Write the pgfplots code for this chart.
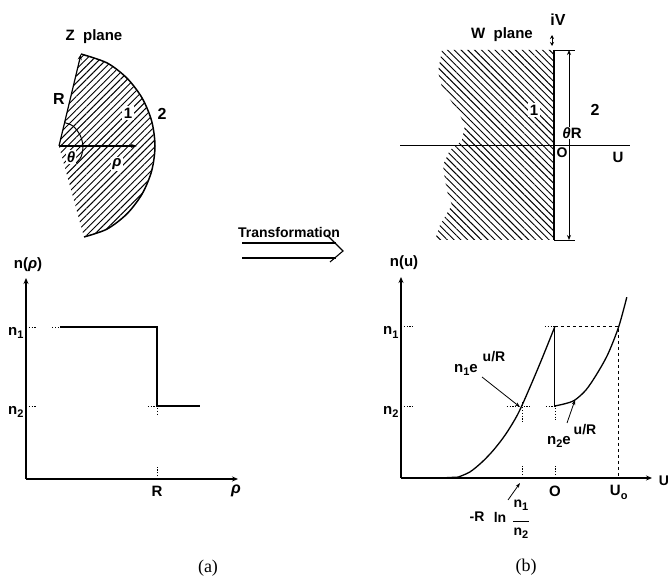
\documentclass[border=0pt]{standalone}
\usepackage{fontspec}
\setmainfont{Liberation Sans}
\newfontfamily\capfont{Liberation Serif}
\usepackage{pgfplots}
\pgfplotsset{compat=1.18}
\usetikzlibrary{arrows.meta,patterns.meta}

\newcommand{\sub}[1]{\raisebox{-3.5pt}{\fontsize{11}{11}\selectfont #1}}
\newcommand{\fs}[1]{\fontsize{#1}{#1}\selectfont\bfseries}

\pgfplotsset{
  chart/.style={
    scale only axis, clip=false, axis lines=left,
    axis line style={line width=1.2pt,-{Stealth[length=6pt,width=5pt]}},
    anchor=south west, ymin=0,
    major tick length=0pt, tick style={draw=none},
    tick label style={font=\fs{15}},
    xticklabel style={yshift=-4pt},
    yticklabel style={xshift=1pt,yshift=-6pt},
  },
  hatchw/.style={draw=none,pattern={Lines[angle=-45,distance=4.8pt,line width=.95pt]},forget plot},
  hatchz/.style={draw=none,pattern={Lines[angle=45,distance=4.8pt,line width=.95pt]},forget plot},
  tiny dots/.style={line width=.6pt,dash pattern=on 1.2pt off 1.6pt},
}

\begin{document}
\begin{tikzpicture}[x=1pt,y=1pt]
\useasboundingbox (0,0) rectangle (670pt,580pt);

% n(rho)
\begin{axis}[chart,at={(26pt,101pt)},width=212pt,height=201pt,
  xmin=0,xmax=1.618,ymax=2.75,
  xtick={1},xticklabels={R},
  ytick={1,2.08},yticklabels={n\sub{2},n\sub{1}}]
\addplot[line width=1.2pt] coordinates {(0.26,2.08) (1,2.08) (1,1) (1.33,1)};
\addplot[tiny dots] coordinates {(0,2.08) (0.08,2.08)};
\addplot[tiny dots] coordinates {(0.2,2.08) (0.26,2.08)};
\addplot[tiny dots] coordinates {(0,1) (0.08,1)};
\addplot[tiny dots] coordinates {(0.93,1) (1,1) (1,0.87)};
\addplot[tiny dots] coordinates {(1,0) (1,0.17)};
\end{axis}

% n(u)
\begin{axis}[chart,at={(401pt,102pt)},width=251pt,height=201pt,
  xmin=-3.42,xmax=2.16,ymax=2.79,
  xtick={0,1.42},xticklabels={O,U\sub{o}},
  ytick={1,2.1},yticklabels={n\sub{2},n\sub{1}}]
\addplot[line width=2pt] coordinates {(-3.42,0) (-3.42,1)};
\addplot[line width=1.6pt] coordinates {(-2.49,0) (-2.16,0.01)};
\addplot[line width=1.3pt,smooth] coordinates {(-2.16,0.01) (-1.89,0.083) (-1.62,0.22) (-1.36,0.39) (-1.09,0.61) (-0.82,0.89) (-0.56,1.25) (-0.29,1.65) (0,2.1)};
\addplot[line width=1.3pt] coordinates {(0,2.1) (0,1)};
\addplot[line width=1.3pt,smooth] coordinates {(0,1) (0.22,1.03) (0.44,1.08) (0.69,1.22) (0.93,1.44) (1.18,1.72) (1.42,2.1) (1.6,2.51)};
\addplot[line width=.9pt,dashed] coordinates {(0,2.1) (1.42,2.1) (1.42,0)};
\addplot[tiny dots] coordinates {(-3.42,2.1) (-3.12,2.1)};
\addplot[tiny dots] coordinates {(-3.42,1) (-3.12,1)};
\addplot[tiny dots] coordinates {(-0.22,2.1) (0,2.1)};
\addplot[tiny dots] coordinates {(-1.07,1) (-0.51,1)};
\addplot[tiny dots] coordinates {(-0.2,1) (0,1) (0,0.8)};
\addplot[tiny dots] coordinates {(-0.73,1.06) (-0.73,0.78)};
\addplot[tiny dots] coordinates {(-0.73,0) (-0.73,0.18)};
\addplot[tiny dots] coordinates {(0,0) (0,0.18)};
\end{axis}

% pixel canvas for the two planes, the arrow and free labels
\begin{axis}[at={(0pt,0pt)},anchor=south west,scale only axis,width=670pt,height=580pt,
  xmin=0,xmax=670,ymin=0,ymax=580,y dir=reverse,axis lines=none,clip=false]

% Z plane
\addplot[hatchz] coordinates {(59,146) (81,54) (107,62.9) (126.9,78.1) (142.1,98) (151.7,121.2) (155,146)
  (151.7,170.8) (142.1,194) (126.9,213.9) (107,229.1) (84,237)} -- cycle;
\addplot[line width=1.5pt,smooth] coordinates {(81,54) (107,62.9) (126.9,78.1) (142.1,98) (151.7,121.2) (155,146)
  (151.7,170.8) (142.1,194) (126.9,213.9) (107,229.1) (84,237)};
\addplot[line width=1.2pt,{Stealth[length=6pt,width=4pt]}-] coordinates {(81,54) (59,146)};
\addplot[line width=1.2pt,-{Stealth[length=6pt,width=4pt]}] coordinates {(59,146) (137,146)};
\addplot[line width=1pt,smooth] coordinates {(64.5,122.6) (73,126) (80,135) (83,146) (81,157) (75,164)};

% W plane
\addplot[hatchw] coordinates {(442,50) (554,50) (554,240) (435,240) (440,225) (452,205) (448,195) (445,180)
  (443,165) (450,150) (457,145) (462,140) (465,125) (457,110) (442,87) (438,72)} -- cycle;
\addplot[line width=2pt] coordinates {(554,50) (554,240)};
\addplot[line width=1.2pt] coordinates {(400,145.5) (630,145.5)};
\addplot[line width=.9pt,{Stealth[length=5pt,width=4pt]}-{Stealth[length=5pt,width=4pt]}] coordinates {(569,50) (569,240)};
\addplot[line width=.9pt] coordinates {(554,50) (575,50)};
\addplot[line width=.9pt] coordinates {(554,240) (575,240)};
\addplot[line width=.8pt,{Stealth[length=4pt,width=4pt]}-{Stealth[length=4pt,width=4pt]}] coordinates {(552,35) (552,46)};

% Transformation arrow
\addplot[line width=1.1pt] coordinates {(242,243) (336,243)};
\addplot[line width=1.1pt] coordinates {(242,258) (336,258)};
\addplot[line width=1.1pt] coordinates {(327,235) (343,251) (330,262)};

% pointers
\addplot[line width=.8pt,-{Stealth[length=5pt,width=3.5pt]}] coordinates {(482,377) (520,407)};
\addplot[line width=.8pt,-{Stealth[length=5pt,width=3.5pt]}] coordinates {(567,423) (575,400)};
\addplot[line width=.8pt,-{Stealth[length=5pt,width=3.5pt]}] coordinates {(508,500) (520,483)};

\node[font=\fs{15}] at (axis cs:94,37) {Z\ \ plane};
\node[font=\fs{16}] at (axis cs:59,99) {R};
\node[fill=white,inner sep=2pt,font=\fs{15}] at (axis cs:128,113) {1};
\node[font=\fs{16}] at (axis cs:162,114) {2};
\node[fill=white,inner sep=1pt,font=\fs{15}\itshape] at (axis cs:71,157) {θ};
\node[fill=white,inner sep=1pt,font=\fs{15}\itshape] at (axis cs:117,164) {ρ};

\node[font=\fs{15}] at (axis cs:502,35) {W\ \ plane};
\node[font=\fs{16}] at (axis cs:558,20) {iV};
\node[fill=white,inner sep=2pt,font=\fs{15}] at (axis cs:534,110) {1};
\node[font=\fs{16}] at (axis cs:595,110) {2};
\node[fill=white,inner sep=.5pt,font=\fs{15}] at (axis cs:572,133) {\textit{θ}R};
\node[font=\fs{14}] at (axis cs:562,153) {O};
\node[font=\fs{15}] at (axis cs:618,157) {U};

\node[font=\fs{14}] at (axis cs:289,232) {Transformation};

\node[font=\fs{15}] at (axis cs:28,265) {n(\textit{ρ})};
\node[font=\fs{16}\itshape] at (axis cs:236,491) {ρ};
\node[font=\fs{15}] at (axis cs:404,263) {n(u)};
\node[font=\fs{14}] at (axis cs:664,481) {U};

\node[font=\fs{15}] at (axis cs:466,370) {n\sub{1}e};
\node[font=\fs{14}] at (axis cs:494,357) {u/R};
\node[font=\fs{15}] at (axis cs:559,442) {n\sub{2}e};
\node[font=\fs{14}] at (axis cs:585,430) {u/R};

\node[font=\fs{14}] at (axis cs:477,517) {-R};
\node[font=\fs{14}] at (axis cs:500,517) {ln};
\node[font=\fs{14},align=center,inner sep=0pt] at (axis cs:521,519) {n\sub{1}\\[1pt]\rule{16pt}{.8pt}\\[-1pt]n\sub{2}};

\node[font=\capfont\fontsize{18}{18}\selectfont] at (axis cs:208,568) {(a)};
\node[font=\capfont\fontsize{18}{18}\selectfont] at (axis cs:526,567) {(b)};
\end{axis}
\end{tikzpicture}
\end{document}
